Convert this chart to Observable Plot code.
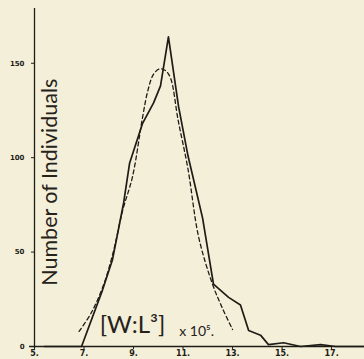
<!DOCTYPE html>
<html>
<head>
<meta charset="utf-8">
<script src="https://cdn.jsdelivr.net/npm/d3@7"></script>
<script src="https://cdn.jsdelivr.net/npm/@observablehq/plot@0.6"></script>
<style>
  html, body { margin: 0; padding: 0; background: #f3efd9; }
  #chart svg { display: block; }
</style>
</head>
<body>
<div id="chart"></div>
<script>
// Observed frequency polygon (solid line)
const observedX = [5.4, 6.9, 7.75, 8.15, 8.6, 8.84, 9.36, 9.81, 10.09, 10.41, 10.82, 11.2, 11.79, 12.23, 12.84, 13.32, 13.65, 14.13, 14.45, 15.06, 15.75, 16.56, 17.16, 18.3];
const observedY = [0, 0, 30, 46, 76, 97, 118, 129, 138, 164, 127, 101, 68, 33, 26, 22, 8.5, 6, 1, 2, 0, 1, 0, 0];

// Fitted curve (dashed line)
const fittedX = [6.8, 7.3, 7.8, 8.2, 8.56, 8.96, 9.36, 9.57, 9.8, 10.05, 10.3, 10.5, 10.8, 11.2, 11.63, 12.19, 12.6, 13.0];
const fittedY = [8, 18, 33, 51, 72, 90, 121, 135, 144, 147, 146, 142, 120, 94, 58, 33, 20, 9];

const xTicks = [5, 7, 9, 11, 13, 15, 17];
const yTicks = [0, 50, 100, 150];
const yLabel = "Number of Individuals";
const formulaMain = "[W:L³]";
const formulaScale = "x 10⁵.";

const observed = observedX.map((x, i) => ({x, y: observedY[i]}));
const fitted = fittedX.map((x, i) => ({x, y: fittedY[i]}));

const ink = "#1f1c17";

const chart = Plot.plot({
  width: 364,
  height: 359,
  marginLeft: 34,
  marginRight: 0,
  marginTop: 8,
  marginBottom: 13,
  style: {background: "#f3efd9", fontFamily: "DejaVu Sans", color: ink},
  x: {domain: [5, 18.33], label: null},
  y: {domain: [0, 179], label: null},
  marks: [
    Plot.axisX({ticks: xTicks, tickFormat: d => d + ".", tickSize: 3, tickPadding: 1, fontSize: 8, fontWeight: "bold", label: null, stroke: ink, fill: ink}),
    Plot.axisY({ticks: yTicks, tickSize: 3, tickPadding: 7, fontSize: 7, fontWeight: "bold", label: null, stroke: ink, fill: ink}),
    Plot.ruleX([5], {y1: -1, y2: 179, stroke: ink, strokeWidth: 1.3}),
    Plot.ruleY([0], {x1: 4.8, x2: 18.33, stroke: ink, strokeWidth: 1.3}),
    Plot.line(fitted, {x: "x", y: "y", stroke: ink, strokeWidth: 1.3, strokeDasharray: "4,3", curve: "catmull-rom"}),
    Plot.line(observed, {x: "x", y: "y", stroke: ink, strokeWidth: 1.7}),
    Plot.text([yLabel], {x: 5.62, y: 87, rotate: -90, fontSize: 21.5, fontFamily: "Lato", fontWeight: 400, fill: "#262219"}),
    Plot.text([formulaMain], {x: 8.96, y: 11, fontSize: 24, fontFamily: "Lato", fontWeight: 400, fill: "#262219"}),
    Plot.text([formulaScale], {x: 11.55, y: 8, fontSize: 14, fontFamily: "Lato", fill: "#262219"})
  ]
});
document.getElementById("chart").appendChild(chart);
</script>
</body>
</html>
